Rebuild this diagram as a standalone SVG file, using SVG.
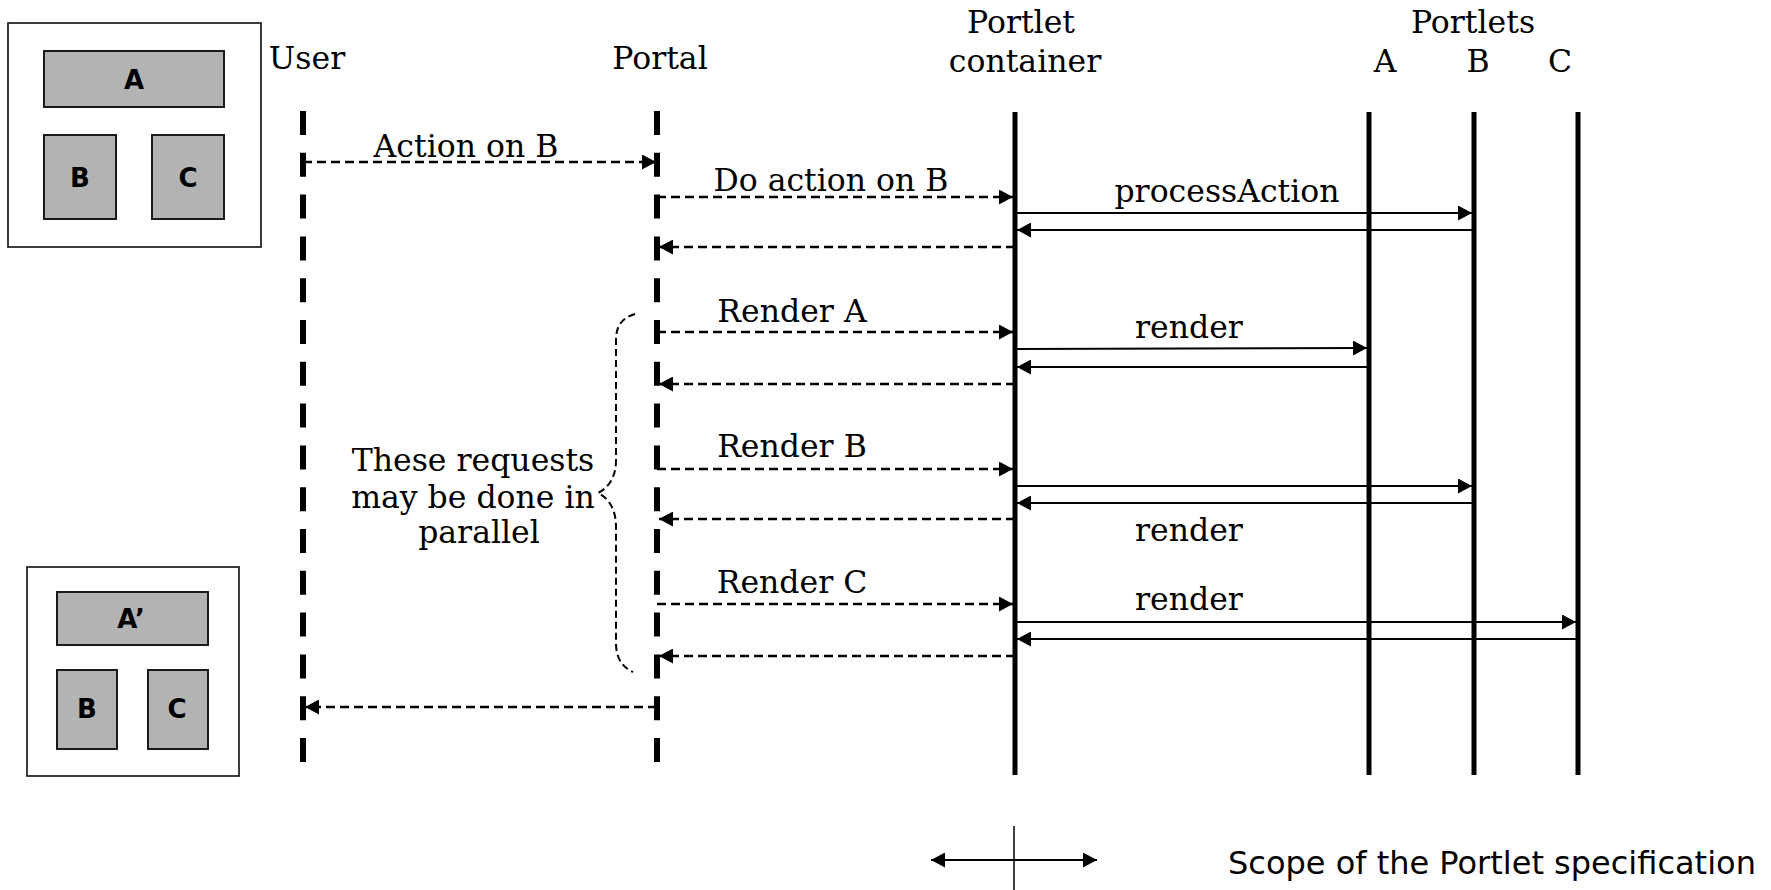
<svg xmlns="http://www.w3.org/2000/svg" width="1771" height="890" viewBox="0 0 1771 890">
  <style>
    .lbl { font-family: "DejaVu Serif", "Liberation Serif", serif; font-size: 31.5px; fill: #000; }
    .box-lbl { font-family: "DejaVu Sans", "Liberation Sans", sans-serif; font-size: 26px; font-weight: bold; fill: #000; text-anchor: middle; }
    .screen { fill: #fff; stroke: #1a1a1a; stroke-width: 1.7; }
    .pane { fill: #b3b3b3; stroke: #1a1a1a; stroke-width: 2; }
    .life-dash { stroke: #000; stroke-width: 6; stroke-dasharray: 24 17.8; fill: none; }
    .life-solid { stroke: #000; stroke-width: 5; fill: none; }
    .req { stroke: #000; stroke-width: 2.5; stroke-dasharray: 9 5; fill: none; marker-end: url(#head); }
    .call { stroke: #000; stroke-width: 2; fill: none; marker-end: url(#head); }
    .brace { stroke: #000; stroke-width: 2; stroke-dasharray: 7 4; fill: none; }
  </style>
  <defs>
    <marker id="head" viewBox="0 0 14 15" refX="14" refY="7.5" markerWidth="14" markerHeight="15" markerUnits="userSpaceOnUse" orient="auto">
      <path d="M0,0 L14,7.5 L0,15 Z" fill="#000"/>
    </marker>
    <marker id="head-start" viewBox="0 0 14 15" refX="0" refY="7.5" markerWidth="14" markerHeight="15" markerUnits="userSpaceOnUse" orient="auto">
      <path d="M14,0 L0,7.5 L14,15 Z" fill="#000"/>
    </marker>
  </defs>

  <!-- screen before the action -->
  <g id="screen-before">
    <rect class="screen" x="8" y="23" width="253" height="224"/>
    <rect class="pane" x="44" y="51" width="180" height="56"/>
    <rect class="pane" x="44" y="135" width="72" height="84"/>
    <rect class="pane" x="152" y="135" width="72" height="84"/>
    <text class="box-lbl" x="134" y="89">A</text>
    <text class="box-lbl" x="80" y="187">B</text>
    <text class="box-lbl" x="188" y="187">C</text>
  </g>

  <!-- screen after rendering -->
  <g id="screen-after">
    <rect class="screen" x="27" y="567" width="212" height="209"/>
    <rect class="pane" x="57" y="592" width="151" height="53"/>
    <rect class="pane" x="57" y="670" width="60" height="79"/>
    <rect class="pane" x="148" y="670" width="60" height="79"/>
    <text class="box-lbl" x="131" y="628">A’</text>
    <text class="box-lbl" x="87" y="718">B</text>
    <text class="box-lbl" x="177" y="718">C</text>
  </g>

  <!-- participants -->
  <g id="user">
    <text class="lbl" x="307" y="69" text-anchor="middle">User</text>
    <line class="life-dash" x1="303" y1="111" x2="303" y2="762"/>
  </g>
  <g id="portal">
    <text class="lbl" x="660" y="69" text-anchor="middle">Portal</text>
    <line class="life-dash" x1="657" y1="111" x2="657" y2="762"/>
  </g>
  <g id="portlet-container">
    <text class="lbl" x="1021" y="33" text-anchor="middle">Portlet</text>
    <text class="lbl" x="1025" y="72" text-anchor="middle">container</text>
    <line class="life-solid" x1="1015" y1="112" x2="1015" y2="775"/>
  </g>
  <g id="portlets">
    <text class="lbl" x="1473" y="33" text-anchor="middle">Portlets</text>
  </g>
  <g id="portlet-a">
    <text class="lbl" x="1385" y="72" text-anchor="middle">A</text>
    <line class="life-solid" x1="1369" y1="112" x2="1369" y2="775"/>
  </g>
  <g id="portlet-b">
    <text class="lbl" x="1478" y="72" text-anchor="middle">B</text>
    <line class="life-solid" x1="1474" y1="112" x2="1474" y2="775"/>
  </g>
  <g id="portlet-c">
    <text class="lbl" x="1560" y="72" text-anchor="middle">C</text>
    <line class="life-solid" x1="1578" y1="112" x2="1578" y2="775"/>
  </g>

  <!-- messages -->
  <g id="connectors">
    <line class="req" x1="303" y1="162" x2="656" y2="162"/>
    <line class="req" x1="657" y1="197" x2="1013" y2="197"/>
    <line class="call" x1="1015" y1="213" x2="1472" y2="213"/>
    <line class="call" x1="1474" y1="230" x2="1017" y2="230"/>
    <line class="req" x1="1015" y1="247" x2="659" y2="247"/>

    <line class="req" x1="657" y1="332" x2="1013" y2="332"/>
    <line class="call" x1="1015" y1="349" x2="1367" y2="348"/>
    <line class="call" x1="1369" y1="367" x2="1017" y2="367"/>
    <line class="req" x1="1015" y1="384" x2="659" y2="384"/>

    <line class="req" x1="657" y1="469" x2="1013" y2="469"/>
    <line class="call" x1="1015" y1="486" x2="1472" y2="486"/>
    <line class="call" x1="1474" y1="503" x2="1017" y2="503"/>
    <line class="req" x1="1015" y1="519" x2="659" y2="519"/>

    <line class="req" x1="657" y1="604" x2="1013" y2="604"/>
    <line class="call" x1="1015" y1="622" x2="1576" y2="622"/>
    <line class="call" x1="1578" y1="639" x2="1017" y2="639"/>
    <line class="req" x1="1015" y1="656" x2="659" y2="656"/>

    <line class="req" x1="657" y1="707" x2="305" y2="707"/>

    <!-- bracket grouping the render requests -->
    <path class="brace" d="M635,314 C622,318 616,326 616,340 L616,460 C616,478 608,488 598,493 C608,498 616,508 616,527 L616,643 C616,658 622,667 633,672"/>

    <!-- scope indicator -->
    <line x1="1014" y1="826" x2="1014" y2="890" stroke="#000" stroke-width="1.5"/>
    <line x1="931" y1="860" x2="1097" y2="860" stroke="#000" stroke-width="2" marker-start="url(#head-start)" marker-end="url(#head)"/>
  </g>

  <!-- message labels -->
  <g id="labels">
    <text class="lbl" x="466" y="157" text-anchor="middle">Action on B</text>
    <text class="lbl" x="831" y="191" text-anchor="middle">Do action on B</text>
    <text class="lbl" x="1227" y="202" text-anchor="middle">processAction</text>
    <text class="lbl" x="792" y="322" text-anchor="middle">Render A</text>
    <text class="lbl" x="1189" y="338" text-anchor="middle">render</text>
    <text class="lbl" x="792" y="457" text-anchor="middle">Render B</text>
    <text class="lbl" x="1189" y="541" text-anchor="middle">render</text>
    <text class="lbl" x="792" y="593" text-anchor="middle">Render C</text>
    <text class="lbl" x="1189" y="610" text-anchor="middle">render</text>
    <text class="lbl" x="473" y="471" text-anchor="middle">These requests</text>
    <text class="lbl" x="473" y="508" text-anchor="middle">may be done in</text>
    <text class="lbl" x="479" y="543" text-anchor="middle">parallel</text>
    <text x="1228" y="874" font-family="DejaVu Sans, Liberation Sans, sans-serif" font-size="32">Scope of the Portlet specification</text>
  </g>
</svg>
